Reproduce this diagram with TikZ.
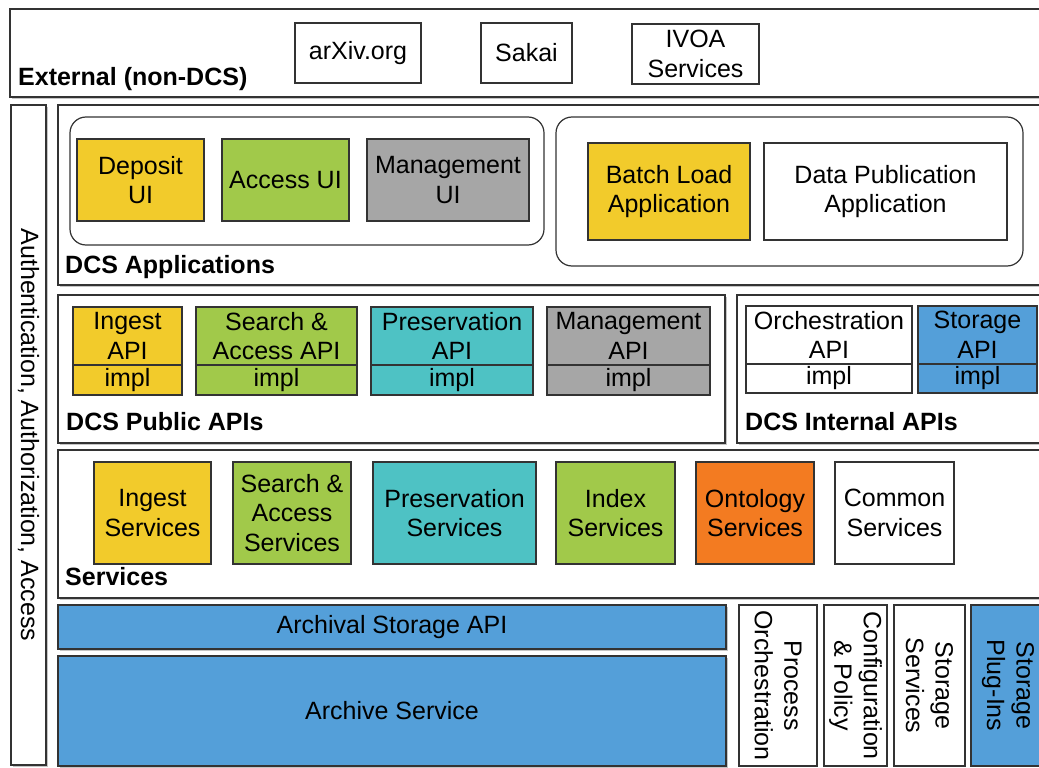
\documentclass[tikz,border=0pt]{standalone}
\usepackage{fontspec}
\setmainfont{Liberation Sans}
\usetikzlibrary{shadows}
\definecolor{linec}{HTML}{333333}
\definecolor{yellowc}{HTML}{F2CB2B}
\definecolor{greenc}{HTML}{A1C94A}
\definecolor{grayc}{HTML}{A6A6A6}
\definecolor{tealc}{HTML}{4EC2C4}
\definecolor{bluec}{HTML}{549FD9}
\definecolor{orangec}{HTML}{F37B21}
\tikzset{
  box/.style={draw=linec, line width=1.2pt, inner sep=0pt, align=center,
    font=\fontsize{25}{29.5}\selectfont},
  layer/.style={draw=linec, line width=1.6pt, fill=white, inner sep=0pt,
    drop shadow={shadow xshift=1.5pt, shadow yshift=-2pt, fill=black!50, opacity=.45}},
  group/.style={draw=linec, line width=1.2pt, rounded corners=16pt, inner sep=0pt},
  lbl/.style={font=\fontsize{25}{29}\selectfont\bfseries, anchor=base west, inner sep=0pt},
}
\begin{document}
\begin{tikzpicture}[x=1pt, y=-1pt]

          \fill[white] (0,0) rectangle (1039,768);
          \useasboundingbox (0,0) rectangle (1039,768);
          \clip (0,0) rectangle (1039,768);

          % external layer
          \node[layer, minimum width=1035, minimum height=88] (ext) at (527.5,53) {};
          \node[lbl] (extlbl) at (18,85) {External (non-DCS)};
          \node[box, minimum width=126, minimum height=60] (arxiv) at (358,53) {arXiv.org};
          \node[box, minimum width=91, minimum height=60] (sakai) at (526.5,53) {Sakai};
          \node[box, minimum width=127, minimum height=60] (ivoa) at (695.5,54) {IVOA\\Services};

          % security column
          \node[layer, rotate=-90, minimum width=660, minimum height=35, align=center,
                font=\fontsize{25}{29}\selectfont] (auth) at (28.5,435)
                {Authentication, Authorization, Access};

          % applications
          \node[layer, minimum width=987, minimum height=180] (apps) at (551.5,195) {};
          \node[lbl] (appslbl) at (65,273) {DCS Applications};
          \node[group, minimum width=474, minimum height=128] (uigrp) at (307,181) {};
          \node[group, minimum width=467, minimum height=149] (appgrp) at (789.5,191.5) {};
          \node[box, fill=yellowc, minimum width=127, minimum height=82] (depui) at (140.5,180) {Deposit\\UI};
          \node[box, fill=greenc, minimum width=127, minimum height=82] (accui) at (285.5,180) {Access UI};
          \node[box, fill=grayc, minimum width=162, minimum height=82] (mgmtui) at (448,180) {Management\\UI};
          \node[box, fill=yellowc, minimum width=162, minimum height=97] (batch) at (669,191.5) {Batch Load\\Application};
          \node[box, fill=white, minimum width=243, minimum height=97] (datapub) at (885.5,191.5) {Data Publication\\Application};

          % public apis
          \node[layer, minimum width=667, minimum height=148] (pub) at (391.5,369) {};
          \node[lbl] (publbl) at (66,430) {DCS Public APIs};
          \node[box, fill=yellowc, minimum width=109, minimum height=58] (ingapi) at (127.5,336) {Ingest\\API};
          \node[box, fill=yellowc, minimum width=109, minimum height=30] (ingimpl) at (127.5,380) {impl};
          \node[box, fill=greenc, minimum width=161, minimum height=58] (srchapi) at (276.5,336) {Search \&\\Access API};
          \node[box, fill=greenc, minimum width=161, minimum height=30] (srchimpl) at (276.5,380) {impl};
          \node[box, fill=tealc, minimum width=162, minimum height=58] (presapi) at (452,336) {Preservation\\API};
          \node[box, fill=tealc, minimum width=162, minimum height=30] (presimpl) at (452,380) {impl};
          \node[box, fill=grayc, minimum width=163, minimum height=58] (mgmtapi) at (628.5,336) {Management\\API};
          \node[box, fill=grayc, minimum width=163, minimum height=30] (mgmtimpl) at (628.5,380) {impl};

          % internal apis
          \node[layer, minimum width=308, minimum height=148] (int) at (891,369) {};
          \node[lbl] (intlbl) at (745,430) {DCS Internal APIs};
          \node[box, fill=white, minimum width=166, minimum height=58] (orchapi) at (829,335) {Orchestration\\API};
          \node[box, fill=white, minimum width=166, minimum height=29] (orchimpl) at (829,378.5) {impl};
          \node[box, fill=bluec, minimum width=119, minimum height=58] (storapi) at (977.5,335) {Storage\\API};
          \node[box, fill=bluec, minimum width=119, minimum height=29] (storimpl) at (977.5,378.5) {impl};

          % services
          \node[layer, minimum width=987, minimum height=148] (svc) at (551.5,524) {};
          \node[lbl] (svclbl) at (65,585) {Services};
          \node[box, fill=yellowc, minimum width=117, minimum height=102] (ingsvc) at (152.5,513) {Ingest\\Services};
          \node[box, fill=greenc, minimum width=118, minimum height=102] (srchsvc) at (292,513) {Search \&\\Access\\Services};
          \node[box, fill=tealc, minimum width=163, minimum height=102] (pressvc) at (454.5,513) {Preservation\\Services};
          \node[box, fill=greenc, minimum width=119, minimum height=102] (idxsvc) at (615.5,513) {Index\\Services};
          \node[box, fill=orangec, minimum width=118, minimum height=102] (ontsvc) at (755,513) {Ontology\\Services};
          \node[box, fill=white, minimum width=119, minimum height=102] (comsvc) at (894.5,513) {Common\\Services};

          % archive
          \node[layer, fill=bluec, minimum width=668, minimum height=44, align=center,
                font=\fontsize{25}{29}\selectfont] (archapi) at (392,627) {Archival Storage API};
          \node[layer, fill=bluec, minimum width=668, minimum height=110, align=center,
                font=\fontsize{25}{29}\selectfont] (archsvc) at (392,711) {Archive Service};
          \node[box, fill=white, rotate=-90, minimum width=161, minimum height=78] (procorch) at (778,685.5) {Process\\Orchestration};
          \node[box, fill=white, rotate=-90, minimum width=161, minimum height=63] (config) at (855.5,685.5) {Configuration\\\& Policy};
          \node[box, fill=white, rotate=-90, minimum width=161, minimum height=71] (storsvc) at (929.5,685.5) {Storage\\Services};
          \node[box, fill=bluec, rotate=-90, minimum width=161, minimum height=74] (plugins) at (1008,685.5) {Storage\\Plug-Ins};

        \end{tikzpicture}
\end{document}
